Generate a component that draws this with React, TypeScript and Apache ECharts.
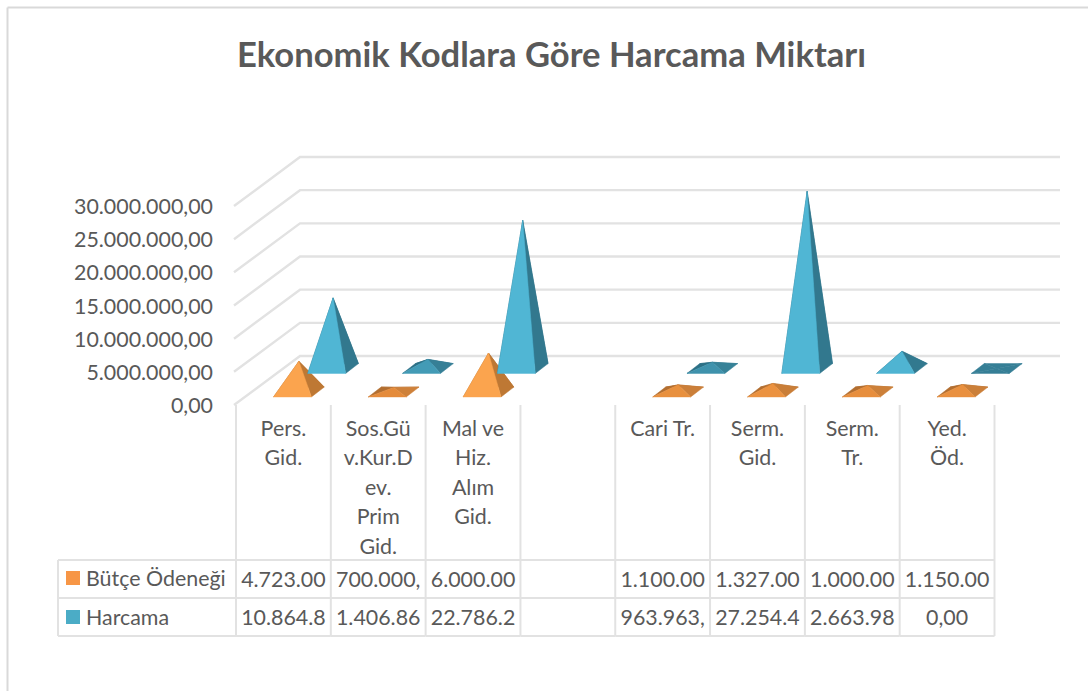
import React, { useEffect, useRef } from "react";
import * as echarts from "echarts";

const titleText = "Ekonomik Kodlara Göre Harcama Miktarı";
const categories = ["Pers.\nGid.", "Sos.Gü\nv.Kur.D\nev.\nPrim\nGid.", "Mal ve\nHiz.\nAlım\nGid.", "", "Cari Tr.", "Serm.\nGid.", "Serm.\nTr.", "Yed.\nÖd."];
const budgetName = "Bütçe Ödeneği";
const spendName = "Harcama";
const budgetValues = [4723000, 700000, 6000000, null, 1100000, 1327000, 1000000, 1150000];
const spendValues = [10864800, 1406860, 22786200, null, 963963, 27254400, 2663980, 0];
const budgetCells = ["4.723.00", "700.000,", "6.000.00", "", "1.100.00", "1.327.00", "1.000.00", "1.150.00"];
const spendCells = ["10.864.8", "1.406.86", "22.786.2", "", "963.963,", "27.254.4", "2.663.98", "0,00"];
const yTicks = [0, 5000000, 10000000, 15000000, 20000000, 25000000, 30000000];

const FONT = "Lato";
const FONT_SIZE = 21.4;
const TEXT = "#595959";
const GRID = "#e2e2e2";
const DEPTH_X = 64;
const DEPTH_Y = 49;
const WALL_RIGHT = 1060;

function mix(a: number[], b: number[], t: number) {
  const c = a.map((v, i) => Math.round(v + (b[i] - v) * t));
  return `rgb(${c[0]},${c[1]},${c[2]})`;
}

const budgetShades = { darkFront: [220, 130, 52], lightFront: [251, 164, 78], right: [190, 120, 52], rightFlat: [212, 132, 60], back: [178, 110, 48] };
const spendShades = { darkFront: [54, 127, 150], lightFront: [80, 182, 212], right: [50, 120, 142], rightFlat: [58, 135, 158], back: [44, 112, 134] };

function pyramidSeries(name: string, values: (number | null)[], depth: number, xShift: number, shades: typeof budgetShades, swatch: string) {
  return {
    type: "custom",
    name,
    itemStyle: { color: swatch },
    z: 5,
    clip: false,
    encode: { x: 0, y: 1 },
    data: values.map((v, i) => [i, v]),
    renderItem: (_p: any, api: any) => {
      const v = api.value(1);
      if (v === null || v === undefined || isNaN(v)) return { type: "group", children: [] };
      const c = api.coord([api.value(0), 0]);
      const top = api.coord([api.value(0), v]);
      const band = api.size([1, 0])[0];
      const hw = band * 0.2;
      const hd = 0.1;
      const cx = c[0] + DEPTH_X * depth + xShift;
      const cy = c[1] - DEPTH_Y * depth;
      const dx = DEPTH_X * hd;
      const dy = DEPTH_Y * hd;
      const fl = [cx - hw - dx, cy + dy];
      const fr = [cx + hw - dx, cy + dy];
      const br = [cx + hw + dx, cy - dy];
      const bl = [cx - hw + dx, cy - dy];
      const h = (c[1] - top[1]) * 0.98;
      const apex = [cx, cy - h];
      const t = Math.min(1, h / 18);
      const flat = h < 1;
      const dark = mix(shades.darkFront, shades.darkFront, 0);
      const face = (pts: number[][], fill: string) => ({
        type: "polygon",
        shape: { points: pts },
        style: { fill, stroke: fill, lineWidth: 0.5 },
      });
      const backFill = flat ? dark : mix(shades.back, shades.back, 0);
      return {
        type: "group",
        children: [
          face([bl, br, apex], backFill),
          face([fl, bl, apex], backFill),
          face([fr, br, apex], flat ? dark : mix(shades.rightFlat, shades.right, t)),
          face([fl, fr, apex], mix(shades.darkFront, shades.lightFront, t)),
        ],
      };
    },
  };
}

export default function App() {
  const ref = useRef<HTMLDivElement>(null);
  useEffect(() => {
    const chart = echarts.init(ref.current!, undefined, { renderer: "svg" });
    chart.setOption({
      animation: false,
      backgroundColor: "#ffffff",
      textStyle: { fontFamily: FONT },
      title: {
        text: titleText,
        left: 546.5,
        top: 30.5,
        textAlign: "center",
        textStyle: { fontFamily: FONT, fontWeight: "bold", fontSize: 34.6, color: TEXT },
      },
      legend: {
        data: [budgetName, spendName],
        orient: "vertical",
        left: 66,
        top: 567,
        padding: 0,
        itemWidth: 14,
        itemHeight: 14,
        itemGap: 17,
        icon: "rect",
        selectedMode: false,
        textStyle: { fontFamily: FONT, fontSize: FONT_SIZE, color: TEXT, padding: [0, 0, 0, 1], lineHeight: 22 },
      },
      grid: { left: 236, right: 1088 - 994.5, top: 206, height: 199, containLabel: false },
      xAxis: {
        type: "category",
        data: categories,
        boundaryGap: true,
        axisLine: { show: false },
        axisTick: { show: false },
        splitLine: { show: false },
        axisLabel: {
          interval: 0,
          margin: 8,
          fontFamily: FONT,
          fontSize: FONT_SIZE,
          lineHeight: 29.5,
          color: TEXT,
          align: "center",
          verticalAlign: "top",
        },
      },
      yAxis: {
        type: "value",
        min: 0,
        max: 30000000,
        interval: 5000000,
        axisLine: { show: false },
        axisTick: { show: false },
        splitLine: { show: false },
        axisLabel: {
          margin: 23,
          fontFamily: FONT,
          fontSize: FONT_SIZE,
          color: TEXT,
          padding: [2, 0, 0, 0],
          formatter: (v: number) => `${v.toLocaleString("de-DE")},00`,
        },
      },
      series: [
        {
          type: "custom",
          name: "walls",
          silent: true,
          clip: false,
          z: 1,
          encode: { y: 0 },
          data: yTicks.map((v) => [v]),
          renderItem: (_p: any, api: any) => {
            const p = api.coord([0, api.value(0)]);
            const left = p[0] - api.size([1, 0])[0] / 2;
            const y = p[1];
            return {
              type: "polyline",
              shape: { points: [[left - 2, y], [left + DEPTH_X, y - DEPTH_Y], [WALL_RIGHT, y - DEPTH_Y]] },
              style: { stroke: GRID, lineWidth: 2.4, fill: "none" },
            };
          },
        },
        {
          type: "custom",
          name: "table",
          silent: true,
          clip: false,
          z: 2,
          encode: { x: 0 },
          data: categories.map((_c, i) => [i]),
          renderItem: (_p: any, api: any) => {
            const i = api.value(0);
            const c = api.coord([i, 0]);
            const band = api.size([1, 0])[0];
            const base = c[1];
            const row1 = base + 155;
            const row2 = base + 193;
            const row3 = base + 231;
            const x0 = c[0] - band / 2;
            const x1 = c[0] + band / 2;
            const ln = (a: number, b: number, e: number, f: number) => ({
              type: "line",
              shape: { x1: a, y1: b, x2: e, y2: f },
              style: { stroke: GRID, lineWidth: 2 },
            });
            const txt = (s: string, y: number) => ({
              type: "text",
              style: { text: s, x: c[0], y, align: "center", verticalAlign: "middle", fontFamily: FONT, fontSize: FONT_SIZE, fill: TEXT },
            });
            const kids: any[] = [
              ln(x0, base, x0, row3),
              ln(x0, row1, x1, row1),
              ln(x0, row2, x1, row2),
              ln(x0, row3, x1, row3),
              txt(budgetCells[i], (row1 + row2) / 2),
              txt(spendCells[i], (row2 + row3) / 2),
            ];
            if (i === categories.length - 1) kids.push(ln(x1, base, x1, row3));
            if (i === 0) {
              const tl = x0 - 178;
              kids.push(ln(tl, row1, x0, row1), ln(tl, row2, x0, row2), ln(tl, row3, x0, row3), ln(tl, row1, tl, row3));
            }
            return { type: "group", children: kids };
          },
        },
        pyramidSeries(budgetName, budgetValues, 0.265, -1.5, budgetShades, "#f79646"),
        pyramidSeries(spendName, spendValues, 0.745, 2, spendShades, "#4bacc6"),
      ],
      graphic: [
        { type: "line", shape: { x1: 7.5, y1: 7.5, x2: 1088, y2: 7.5 }, style: { stroke: "#d9d9d9", lineWidth: 2 }, silent: true },
        { type: "line", shape: { x1: 7.5, y1: 7.5, x2: 7.5, y2: 691 }, style: { stroke: "#d9d9d9", lineWidth: 2 }, silent: true },
      ],
    });
    return () => chart.dispose();
  }, []);
  return <div ref={ref} style={{ position: "fixed", left: 0, top: 0, width: 1088, height: 691 }} />;
}
